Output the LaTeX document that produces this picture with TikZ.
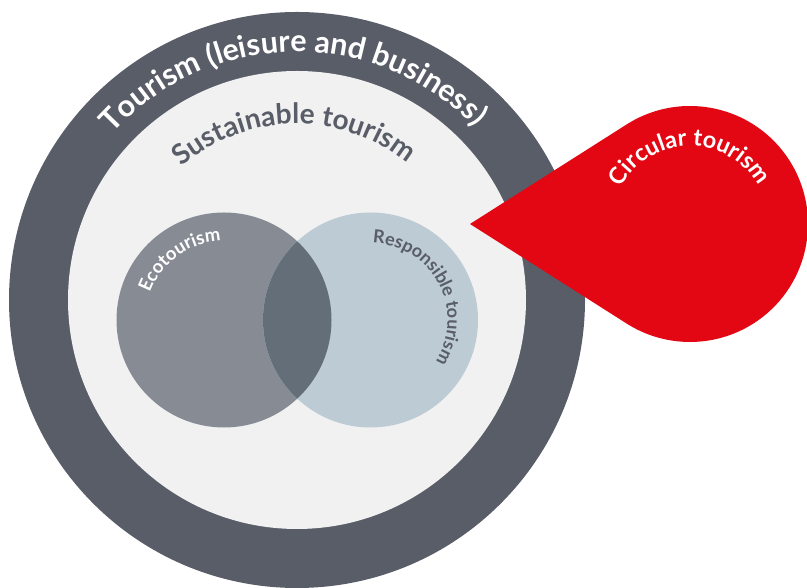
\documentclass[tikz,border=0pt]{standalone}
\usepackage{fontspec}
\setmainfont{Lato}
\usetikzlibrary{decorations.text}
\definecolor{ringgray}{HTML}{595D68}
\definecolor{sustfill}{HTML}{F1F1F1}
\definecolor{ecofill}{HTML}{878B94}
\definecolor{respfill}{HTML}{BCCBD4}
\definecolor{bothfill}{HTML}{636E79}
\definecolor{circred}{HTML}{E30613}
\newcommand{\arcfont}[1]{\fontsize{#1}{#1}\selectfont\bfseries}

\begin{document}
\begin{tikzpicture}[x=1pt, y=1pt]
	\tikzstyle{arctext}=[decorate, decoration={text along path, text align=center}]
	\useasboundingbox (0,0) rectangle (807,588);

	% Draw circles
	\coordinate (center) at (297,288);
	\coordinate (eco) at (224,268);
	\coordinate (resp) at (370.5,268);
	\coordinate (drop) at (690,364);
	\coordinate (tip) at (470,364);

	\fill[ringgray] (center) circle[radius=288];
	\fill[sustfill] (center) circle[radius=229];
	\fill[ecofill] (eco) circle[radius=107.5];
	\fill[respfill] (resp) circle[radius=107.5];
	\begin{scope}
		\clip (eco) circle[radius=107.5];
		\fill[bothfill] (resp) circle[radius=107.5];
	\end{scope}

	% Draw labels along the arcs
	\path[arctext, decoration={text color=white, text={|\arcfont{30.5}|Tourism (leisure and business)}}]
		([shift={(175:248)}]center) arc[start angle=175, end angle=7, radius=248];
	\path[arctext, decoration={text color=ringgray, text={|\arcfont{28}|Sustainable tourism}}]
		([shift={(170:176)}]center) arc[start angle=170, end angle=12, radius=176];
	\path[arctext, decoration={text color=white, text={|\arcfont{18.5}|Ecotourism}}]
		([shift={(200:79)}]eco) arc[start angle=200, end angle=52, radius=79];
	\path[arctext, decoration={text color=ringgray, text={|\arcfont{18}|Responsible tourism}}]
		([shift={(110:77)}]resp) arc[start angle=110, end angle=-54, radius=77];

	% Draw drop
	\fill[circred] (tip) -- ([shift={(122.4:118)}]drop) arc[start angle=122.4, end angle=-122.4, radius=118] -- cycle;
	\path[arctext, decoration={text color=white, text={|\arcfont{23.5}|Circular tourism}}]
		([shift={(170:78)}]drop) arc[start angle=170, end angle=11, radius=78];

\end{tikzpicture}
\end{document}
